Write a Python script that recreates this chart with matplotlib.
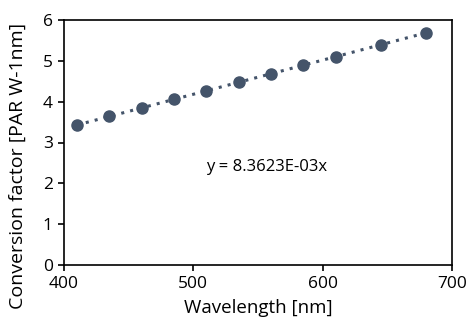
import matplotlib
matplotlib.use("Agg")
import matplotlib.pyplot as plt
import numpy as np

wavelength = [410, 435, 460, 485, 510, 535, 560, 585, 610, 645, 680]
factor = [3.43, 3.64, 3.85, 4.06, 4.26, 4.47, 4.68, 4.89, 5.10, 5.39, 5.69]
slope = 8.3623e-3
eq_label = "y = 8.3623E-03x"
xticks = [400, 500, 600, 700]
yticks = [0, 1, 2, 3, 4, 5, 6]

plt.rcParams['font.family'] = ['Open Sans', 'DejaVu Sans']
color = '#44546A'

fig = plt.figure(figsize=(4.67, 3.30), dpi=100)
ax = fig.add_axes([64/467, 1-265/330, (452-64)/467, (265-20)/330])

xs = np.array([wavelength[0], wavelength[-1]])
ax.plot(xs, slope * xs, linestyle=(0, (1, 2.0)), color=color, linewidth=2.2, zorder=2)
ax.plot(wavelength, factor, 'o', color=color, markersize=8, zorder=3)

ax.set_xlim(400, 700)
ax.set_ylim(0, 6)
ax.set_xticks(xticks)
ax.set_yticks(yticks)
ax.tick_params(direction='out', length=4, width=1.2, labelsize=12.5, pad=4)
for s in ax.spines.values():
    s.set_linewidth(1.2)
    s.set_color('#000000')

ax.set_xlabel("Wavelength [nm]", fontsize=13.5, labelpad=5)
ax.set_ylabel("Conversion factor [PAR W-1nm]", fontsize=14, va='center')
ax.yaxis.set_label_coords(-0.118, 0.404)
ax.text(557, 2.4, eq_label, fontsize=12, ha='center', va='center')

fig.savefig("out.png", dpi=100)
